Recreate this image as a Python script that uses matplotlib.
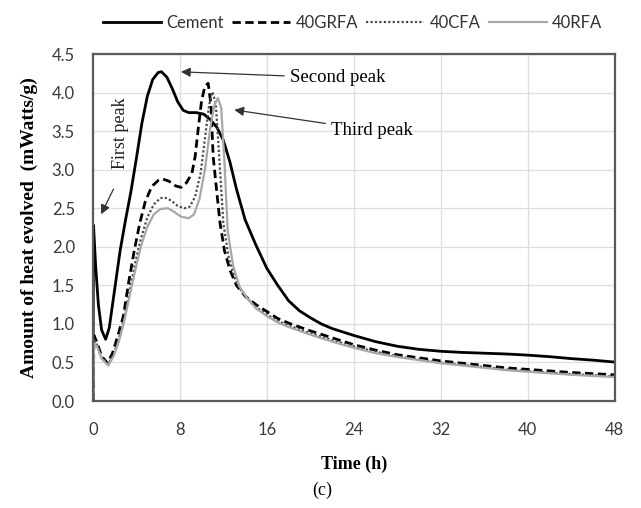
import matplotlib

matplotlib.use("Agg")
import matplotlib.pyplot as plt

# Heat flow readings (time in h, heat in mWatts/g)
CEMENT_T = [0.0, 0.05, 0.25, 0.5, 0.8, 1.17, 1.5, 2.0, 2.5, 3.0, 3.5, 4.0, 4.5, 5.0,
            5.5, 6.0, 6.3, 6.8, 7.3, 7.8, 8.3, 8.8, 9.5, 10.2, 10.8, 11.4, 12.0, 12.6,
            13.2, 14.0, 15.0, 16.0, 17.0, 18.0, 19.0, 20.0, 21.0, 22.0, 24.0, 26.0,
            28.0, 30.0, 32.0, 34.0, 36.0, 38.0, 40.0, 42.0, 44.0, 46.0, 48.0]
CEMENT_Q = [0.0, 2.28, 1.75, 1.25, 0.92, 0.80, 0.95, 1.45, 1.95, 2.35, 2.72, 3.15, 3.6,
            3.95, 4.17, 4.26, 4.27, 4.2, 4.05, 3.88, 3.77, 3.74, 3.74, 3.72, 3.65, 3.55,
            3.38, 3.1, 2.75, 2.35, 2.02, 1.72, 1.50, 1.30, 1.17, 1.08, 1.00, 0.94, 0.85,
            0.77, 0.71, 0.67, 0.645, 0.63, 0.62, 0.61, 0.595, 0.575, 0.55, 0.53, 0.505]

GRFA_T = [0.0, 0.1, 0.4, 0.8, 1.35, 1.8, 2.3, 2.8, 3.3, 3.8, 4.3, 4.8, 5.4, 6.0, 6.4,
          7.0, 7.6, 8.1, 8.6, 9.1, 9.4, 9.7, 10.0, 10.3, 10.6, 10.85, 11.06, 11.4, 11.7,
          12.1, 12.6, 13.2, 14.0, 15.0, 16.0, 17.0, 18.0, 19.0, 20.0, 22.0, 24.0, 26.0,
          28.0, 30.0, 32.0, 34.0, 36.0, 38.0, 40.0, 42.0, 44.0, 46.0, 48.0]
GRFA_Q = [0.0, 0.85, 0.75, 0.58, 0.49, 0.62, 0.85, 1.1, 1.55, 1.95, 2.3, 2.58, 2.78,
          2.86, 2.88, 2.85, 2.79, 2.77, 2.83, 2.95, 3.17, 3.55, 3.9, 4.08, 4.12, 3.85,
          3.17, 2.7, 2.3, 1.95, 1.70, 1.5, 1.36, 1.25, 1.16, 1.07, 1.01, 0.96, 0.91,
          0.82, 0.73, 0.66, 0.6, 0.56, 0.52, 0.49, 0.46, 0.43, 0.41, 0.39, 0.37, 0.355,
          0.34]

CFA_T = [0.0, 0.1, 0.4, 0.8, 1.4, 1.9, 2.4, 2.9, 3.4, 3.9, 4.4, 5.0, 5.6, 6.2, 6.6,
         7.2, 7.8, 8.4, 8.9, 9.4, 9.9, 10.3, 10.7, 11.0, 11.3, 11.6, 12.0, 12.5, 13.2,
         14.0, 15.0, 16.0, 17.0, 18.0, 19.0, 20.0, 22.0, 24.0, 26.0, 28.0, 30.0, 32.0,
         34.0, 36.0, 38.0, 40.0, 42.0, 44.0, 46.0, 48.0]
CFA_Q = [0.0, 0.8, 0.72, 0.56, 0.48, 0.6, 0.82, 1.1, 1.45, 1.8, 2.1, 2.38, 2.55, 2.63,
         2.64, 2.6, 2.53, 2.5, 2.52, 2.65, 2.95, 3.4, 3.85, 4.01, 3.85, 3.2, 2.3, 1.85,
         1.53, 1.36, 1.22, 1.12, 1.04, 0.98, 0.93, 0.88, 0.79, 0.71, 0.64, 0.58, 0.54,
         0.50, 0.47, 0.44, 0.41, 0.39, 0.37, 0.35, 0.335, 0.32]

RFA_T = [0.0, 0.1, 0.4, 0.8, 1.4, 1.9, 2.4, 2.9, 3.4, 3.9, 4.4, 5.0, 5.6, 6.2, 6.9,
         7.5, 8.1, 8.8, 9.3, 9.8, 10.3, 10.8, 11.2, 11.5, 11.8, 12.1, 12.4, 12.9, 13.5,
         14.2, 15.0, 16.0, 17.0, 18.0, 19.0, 20.0, 22.0, 24.0, 26.0, 28.0, 30.0, 32.0,
         34.0, 36.0, 38.0, 40.0, 42.0, 44.0, 46.0, 48.0]
RFA_Q = [0.0, 0.75, 0.7, 0.55, 0.46, 0.58, 0.78, 1.05, 1.38, 1.7, 2.0, 2.26, 2.42, 2.49,
         2.50, 2.45, 2.39, 2.37, 2.42, 2.62, 3.0, 3.55, 3.85, 3.93, 3.8, 3.1, 2.2, 1.75,
         1.48, 1.33, 1.2, 1.1, 1.02, 0.96, 0.91, 0.86, 0.77, 0.69, 0.62, 0.57, 0.53,
         0.49, 0.46, 0.43, 0.40, 0.38, 0.36, 0.34, 0.325, 0.31]

X_TICKS = [0, 8, 16, 24, 32, 40, 48]
Y_TICKS = [0.0, 0.5, 1.0, 1.5, 2.0, 2.5, 3.0, 3.5, 4.0, 4.5]

SERIF = "Liberation Serif"
SANS = "Lato"

fig = plt.figure(figsize=(6.41, 5.08), dpi=100)
ax = fig.add_axes([0.145, 0.2106, 0.814, 0.6831])

ax.plot(CEMENT_T, CEMENT_Q, color="black", linewidth=2.0, label="Cement")
ax.plot(GRFA_T, GRFA_Q, color="black", linewidth=2.0, linestyle=(0, (3, 1.6)),
        label="40GRFA")
ax.plot(CFA_T, CFA_Q, color="#4a4a4a", linewidth=1.6, linestyle=(0, (1, 1)),
        label="40CFA")
ax.plot(RFA_T, RFA_Q, color="#a8a8a8", linewidth=1.6, label="40RFA")

ax.set_xlim(0, 48)
ax.set_ylim(0, 4.5)
ax.set_xticks(X_TICKS)
ax.set_yticks(Y_TICKS)
ax.set_yticklabels([f"{v:.1f}" for v in Y_TICKS])
ax.tick_params(length=0, labelsize=12, colors="#3a3a3a")
ax.tick_params(axis="x", pad=15)
ax.tick_params(axis="y", pad=13)
for label in ax.get_xticklabels() + ax.get_yticklabels():
    label.set_fontfamily(SANS)
ax.grid(True, color="#dedede", linewidth=0.9)
ax.set_axisbelow(True)
for spine in ax.spines.values():
    spine.set_color("#5a5a5a")
    spine.set_linewidth(1.6)

ax.set_xlabel("Time (h)", fontfamily=SERIF, fontweight="bold", fontsize=13,
              labelpad=13)
ax.set_ylabel("Amount of heat evolved  (mWatts/g)", fontfamily=SERIF,
              fontweight="bold", fontsize=14, labelpad=10)

arrow = dict(arrowstyle="-|>", color="#333333", linewidth=0.9, mutation_scale=14)
ax.annotate("Second peak", xy=(7.84, 4.27), xytext=(18.1, 4.19), fontfamily=SERIF,
            fontsize=13.5, va="center", ha="left", arrowprops=arrow)
ax.annotate("Third peak", xy=(12.75, 3.78), xytext=(21.9, 3.51), fontfamily=SERIF,
            fontsize=13.5, va="center", ha="left", arrowprops=arrow)
ax.annotate("", xy=(0.64, 2.39), xytext=(2.0, 2.78), arrowprops=arrow)
ax.text(2.5, 3.47, "First peak", rotation=90, fontfamily=SERIF, fontsize=13,
        ha="center", va="center", color="#222222")

fig.legend(loc="center", bbox_to_anchor=(0.55, 0.955), ncol=4, frameon=False,
           prop={"family": SANS, "size": 12}, handlelength=3.5, handletextpad=0.3,
           columnspacing=0.5, labelcolor="#333333")

fig.text(0.503, 0.035, "(c)", fontfamily=SERIF, fontsize=13, ha="center",
         va="center")

fig.savefig("out.png", dpi=100)
